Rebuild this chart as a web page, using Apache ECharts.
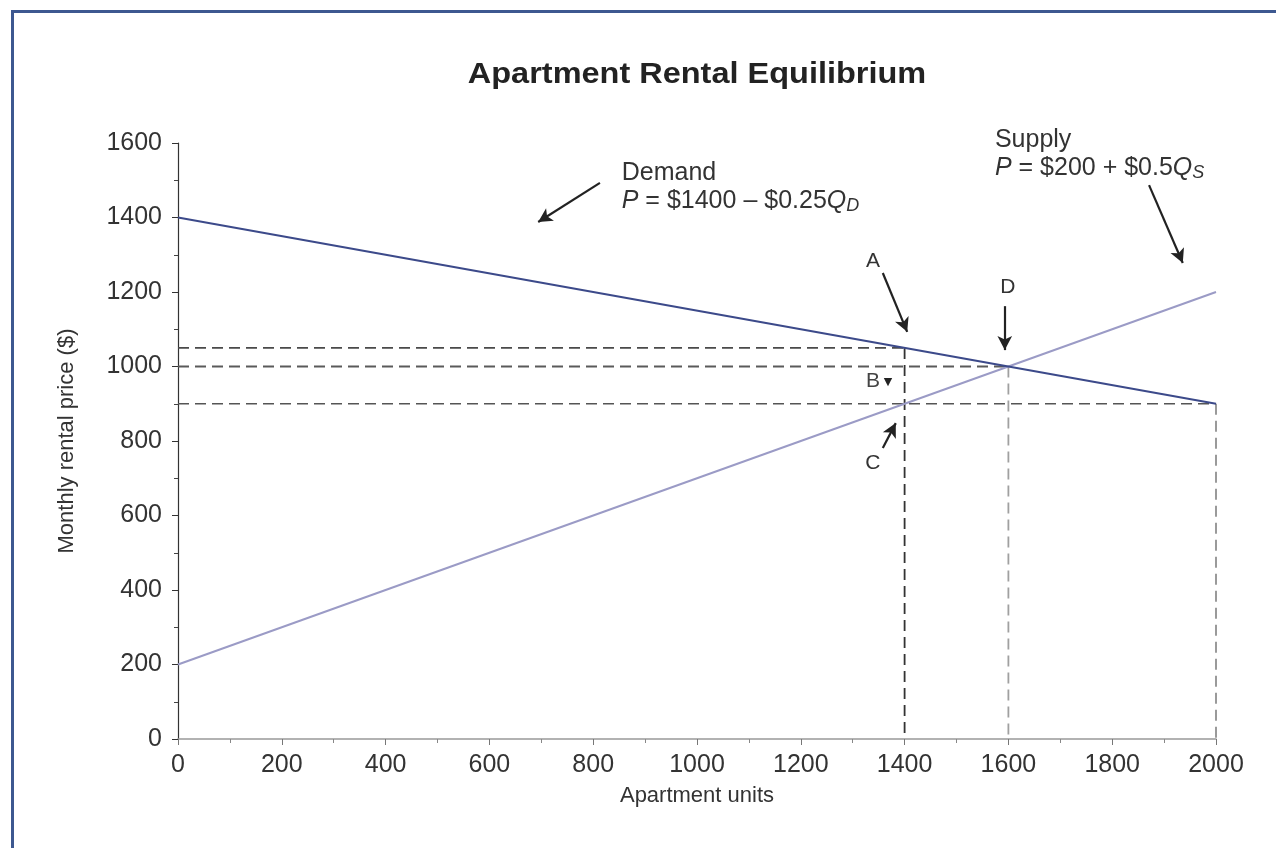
<!DOCTYPE html>
<html>
<head>
<meta charset="utf-8">
<script src="https://cdn.jsdelivr.net/npm/echarts@6/dist/echarts.min.js"></script>
<style>
html,body{margin:0;padding:0;background:#fff;}
#chart{width:1276px;height:848px;}
</style>
</head>
<body>
<div id="chart"></div>
<script>
// ---- data ----
const quantities = [0, 2000];
const demandPrices = [1400, 900];
const supplyPrices = [200, 1200];
const xTicks = [0, 200, 400, 600, 800, 1000, 1200, 1400, 1600, 1800, 2000];
const yTicks = [0, 200, 400, 600, 800, 1000, 1200, 1400, 1600];
// guide points: [quantity, price]
const guideA = [[0, 1050], [1400, 1050]];
const guideA_v = [[1400, 1050], [1400, 0]];
const guideD = [[0, 1000], [1600, 1000]];
const guideD_v = [[1600, 1000], [1600, 0]];
const guideC = [[0, 900], [2000, 900]];
const guideC_v = [[2000, 900], [2000, 0]];
// annotation arrows in data units: [from, to]
const arrows = [
  [[813, 1493], [694, 1388]],
  [[1871, 1487], [1936, 1278]],
  [[1358, 1251], [1405, 1093]],
  [[1593, 1162], [1593, 1044]],
  [[1358, 781], [1383, 848]]
];
// annotation label anchors in data units
const pointLabels = [
  {text: 'A', at: [1339, 1283]},
  {text: 'D', at: [1599, 1213]},
  {text: 'C', at: [1339, 741]}
];
const bLabel = {text: 'B', at: [1339, 961]};
const demandText = {at: [855, 1557]};
const supplyText = {at: [1574, 1646]};

const chart = echarts.init(document.getElementById('chart'));
const FONT = '"Liberation Sans", Arial, Helvetica, sans-serif';

function zip(xs, ys) { return xs.map((x, i) => [x, ys[i]]); }

function dashed(name, data, color, width) {
  return {
    name, type: 'line', data, symbol: 'none', silent: true, z: 2,
    lineStyle: {color, width: width || 1.6, type: [11, 6]}
  };
}

const option = {
  animation: false,
  backgroundColor: '#ffffff',
  grid: {left: 178, right: 60, top: 143, bottom: 109},
  xAxis: {
    type: 'value', min: 0, max: 2000, interval: 200,
    name: 'Apartment units', nameLocation: 'middle', nameGap: 46,
    nameTextStyle: {fontFamily: FONT, fontSize: 22, color: '#333'},
    axisLine: {show: true, onZero: false, lineStyle: {color: '#999', width: 1.5}},
    axisTick: {show: true, length: 6, lineStyle: {color: '#777'}},
    minorTick: {show: true, splitNumber: 2, length: 4, lineStyle: {color: '#888'}},
    splitLine: {show: false},
    axisLabel: {fontFamily: FONT, fontSize: 25, color: '#333', margin: 14,
      formatter: v => xTicks.includes(v) ? String(v) : ''}
  },
  yAxis: {
    type: 'value', min: 0, max: 1600, interval: 200,
    name: 'Monthly rental price ($)', nameLocation: 'middle', nameGap: 100,
    nameTextStyle: {fontFamily: FONT, fontSize: 22, color: '#333'},
    axisLine: {show: true, lineStyle: {color: '#333', width: 1.2}},
    axisTick: {show: true, length: 6, lineStyle: {color: '#333'}},
    minorTick: {show: true, splitNumber: 2, length: 4, lineStyle: {color: '#444'}},
    splitLine: {show: false},
    axisLabel: {fontFamily: FONT, fontSize: 25, color: '#333', margin: 16,
      formatter: v => yTicks.includes(v) ? String(v) : ''}
  },
  series: [
    dashed('guideA', guideA, '#4a4a4a'),
    dashed('guideA_v', guideA_v, '#333333', 1.8),
    dashed('guideD', guideD, '#5a5a5a', 1.8),
    dashed('guideD_v', guideD_v, '#a0a0a0', 1.8),
    dashed('guideC', guideC, '#555555', 1.6),
    dashed('guideC_v', guideC_v, '#909090', 1.8),
    {
      name: 'Supply', type: 'line', data: zip(quantities, supplyPrices), symbol: 'none', z: 3,
      lineStyle: {color: '#9b9bc6', width: 2}
    },
    {
      name: 'Demand', type: 'line', data: zip(quantities, demandPrices), symbol: 'none', z: 4,
      lineStyle: {color: '#3c4a8a', width: 2.2},
      markLine: {
        silent: true, symbol: ['none', 'arrow'], symbolSize: [11, 14], animation: false,
        label: {show: false},
        lineStyle: {color: '#222', width: 2.2, type: 'solid'},
        data: arrows.map(a => [{coord: a[0]}, {coord: a[1]}])
      }
    }
  ]
};
chart.setOption(option);

function px(pt) { return chart.convertToPixel({gridIndex: 0}, pt); }

const tStyle = {fontFamily: FONT, fontSize: 25, fill: '#333'};
const richFormula = {
  i: {fontFamily: FONT, fontSize: 25, fontStyle: 'italic', color: '#333'},
  n: {fontFamily: FONT, fontSize: 25, color: '#333'},
  sub: {fontFamily: FONT, fontSize: 18, fontStyle: 'italic', color: '#333', verticalAlign: 'bottom', padding: [10, 0, 0, 0]}
};
const graphics = [];
// frame
graphics.push({type: 'line', shape: {x1: 11, y1: 11.5, x2: 1276, y2: 11.5}, style: {stroke: '#3d5890', lineWidth: 3}, silent: true});
graphics.push({type: 'line', shape: {x1: 12.5, y1: 10, x2: 12.5, y2: 848}, style: {stroke: '#3d5890', lineWidth: 3}, silent: true});
// title, centred over the plot
{
  const cx = (px([0, 0])[0] + px([2000, 0])[0]) / 2;
  graphics.push({type: 'text', x: cx, y: 75, scaleX: 1.12, silent: true,
    style: {text: 'Apartment Rental Equilibrium', align: 'center', verticalAlign: 'middle',
      fontFamily: FONT, fontSize: 29, fontWeight: 'bold', fill: '#222'}});
}

pointLabels.forEach(p => {
  const [x, y] = px(p.at);
  graphics.push({type: 'text', x, y, silent: true,
    style: Object.assign({text: p.text, align: 'center', verticalAlign: 'middle'}, tStyle, {fontSize: 21})});
});
{
  const [x, y] = px(bLabel.at);
  graphics.push({type: 'text', x, y, silent: true,
    style: Object.assign({text: bLabel.text, align: 'center', verticalAlign: 'middle'}, tStyle, {fontSize: 21, fill: '#444'})});
  graphics.push({type: 'text', x: x + 15, y: y + 1, silent: true,
    style: {text: '▼', align: 'center', verticalAlign: 'middle', fontSize: 11, fill: '#222', fontFamily: '"DejaVu Sans"'}});
}
{
  const [x, y] = px(demandText.at);
  graphics.push({type: 'text', x, y, silent: true,
    style: {text: 'Demand\n{i|P}{n| = $1400 – $0.25}{i|Q}{sub|D}', rich: richFormula,
      fontFamily: FONT, fontSize: 25, fill: '#333', lineHeight: 28, align: 'left', verticalAlign: 'top'}});
}
{
  const [x, y] = px(supplyText.at);
  graphics.push({type: 'text', x, y, silent: true,
    style: {text: 'Supply\n{i|P}{n| = $200 + $0.5}{i|Q}{sub|S}', rich: richFormula,
      fontFamily: FONT, fontSize: 25, fill: '#333', lineHeight: 28, align: 'left', verticalAlign: 'top'}});
}
chart.setOption({graphic: graphics});
</script>
</body>
</html>
